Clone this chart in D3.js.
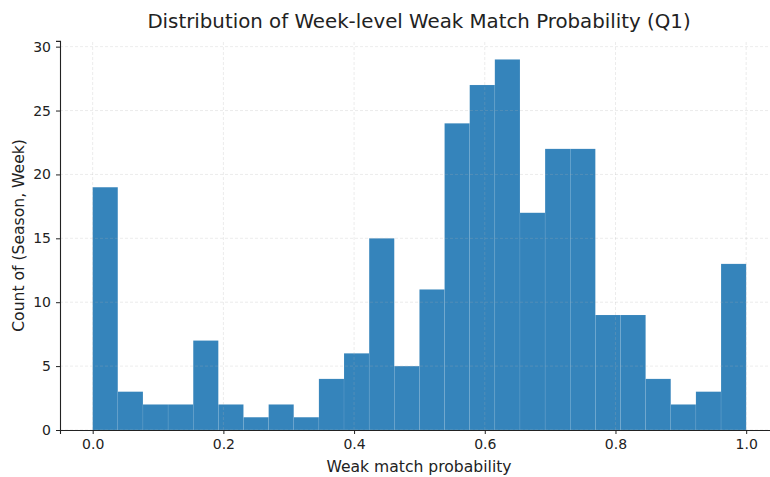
<!DOCTYPE html>
<html>
<head>
<meta charset="utf-8">
<script src="https://cdn.jsdelivr.net/npm/d3@7"></script>
<style>
  body { margin: 0; background: #fff; }
  text { font-family: "DejaVu Sans", sans-serif; fill: #222; }
</style>
</head>
<body>
<div id="wrapper"></div>
<script>
// histogram counts, 26 equal bins over [0, 1]
var counts = [19, 3, 2, 2, 7, 2, 1, 2, 1, 4, 6, 15, 5, 11, 24, 27, 29, 17, 22, 22, 9, 9, 4, 2, 3, 13];
var xTicks = [0.0, 0.2, 0.4, 0.6, 0.8, 1.0];
var yTicks = [0, 5, 10, 15, 20, 25, 30];
var binStart = 0, binEnd = 1;

var dimension = {
    width: 770,
    height: 477,
    margin: { top: 40.9, bottom: 47, left: 60 }
};

var binWidth = (binEnd - binStart) / counts.length;
var bins = counts.map((c, i) => ({
    x0: binStart + i * binWidth,
    x1: binStart + (i + 1) * binWidth,
    count: c
}));

const svg = d3.select("#wrapper")
    .append("svg")
    .attr("width", dimension.width)
    .attr("height", dimension.height);

// matplotlib-like 5% margins; right side runs past the picture edge
const x = d3.scaleLinear()
    .domain([-0.05, 1.05])
    .range([dimension.margin.left, dimension.margin.left + 1.1 * 653.5]);

const yMax = d3.max(counts) * 1.05;
const y = d3.scaleLinear()
    .domain([0, yMax])
    .range([dimension.height - dimension.margin.bottom, dimension.margin.top]);

// bars
svg.append("g")
    .selectAll("rect")
    .data(bins)
    .enter()
    .append("rect")
    .attr("x", d => x(d.x0))
    .attr("width", d => x(d.x1) - x(d.x0))
    .attr("y", d => y(d.count))
    .attr("height", d => y(0) - y(d.count))
    .attr("fill", "#1f77b4")
    .attr("fill-opacity", 0.9)
    .attr("stroke", "#ffffff")
    .attr("stroke-opacity", 0.15)
    .attr("stroke-width", 0.5);

// grid on top, faint dashed
const grid = svg.append("g").attr("stroke", "#b0b0b0").attr("stroke-opacity", 0.3)
    .attr("stroke-dasharray", "3,2").attr("stroke-width", 0.8);
grid.selectAll(".vg").data(xTicks).enter().append("line")
    .attr("x1", d => x(d)).attr("x2", d => x(d))
    .attr("y1", y(0)).attr("y2", y(yMax));
grid.selectAll(".hg").data(yTicks).enter().append("line")
    .attr("y1", d => y(d)).attr("y2", d => y(d))
    .attr("x1", x(-0.05)).attr("x2", x(1.05));

// axes
const xAxis = d3.axisBottom(x).tickValues(xTicks).tickFormat(d3.format(".1f"))
    .tickSizeOuter(0).tickSize(4).tickPadding(5);
const yAxis = d3.axisLeft(y).tickValues(yTicks).tickSizeOuter(0).tickSize(4).tickPadding(5);

const gx = svg.append("g")
    .attr("transform", `translate(0,${y(0)})`)
    .call(xAxis);
const gy = svg.append("g")
    .attr("transform", `translate(${x(-0.05)},0)`)
    .call(yAxis);

[gx, gy].forEach(g => {
    g.selectAll("text").style("font-size", "14px").style("font-family", "DejaVu Sans").attr("fill", "#222");
    g.select(".domain").attr("stroke", "#222").attr("stroke-width", 1.1);
    g.selectAll(".tick line").attr("stroke", "#222").attr("stroke-width", 1);
});

// title and labels
svg.append("text")
    .attr("x", 419)
    .attr("y", 28)
    .attr("text-anchor", "middle")
    .style("font-size", "19.8px")
    .text("Distribution of Week-level Weak Match Probability (Q1)");

svg.append("text")
    .attr("x", 419)
    .attr("y", 472)
    .attr("text-anchor", "middle")
    .style("font-size", "15.6px")
    .text("Weak match probability");

svg.append("text")
    .attr("transform", `translate(24,${(y(0) + y(yMax)) / 2}) rotate(-90)`)
    .attr("text-anchor", "middle")
    .style("font-size", "15.6px")
    .text("Count of (Season, Week)");
</script>
</body>
</html>
